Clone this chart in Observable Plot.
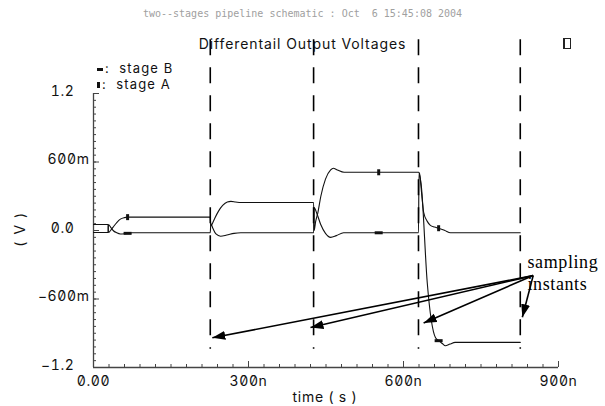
<!DOCTYPE html>
<html><head><meta charset="utf-8">
<script src="https://cdn.jsdelivr.net/npm/d3@7"></script>
<script src="https://cdn.jsdelivr.net/npm/@observablehq/plot@0.6"></script>
<style>
body{margin:0;background:#fff;}
#wrap{position:relative;width:605px;height:406px;overflow:hidden;font-family:Inter,"DejaVu Sans",sans-serif;font-feature-settings:"zero" 1;}
.t{position:absolute;white-space:pre;line-height:1;color:#111;letter-spacing:0.7px;}
.mk{display:inline-block;background:#111;vertical-align:middle;}
</style></head><body><div id="wrap"></div>
<script>
// ---- data (time in ns, voltage in V) ----
const stageA_t = [0, 28, 29, 33, 38, 45, 52, 60, 66, 75, 226, 227, 230, 235, 242, 250, 259, 266, 275, 285, 426, 427, 430, 434, 440, 449, 459, 464, 472, 485, 629, 631, 635, 639, 646, 652, 660, 668, 680, 691, 705, 826];
const stageA_v = [0.053, 0.053, -0.018, 0.0, 0.03, 0.07, 0.1, 0.113, 0.117, 0.117, 0.117, 0.04, 0.06, 0.11, 0.17, 0.22, 0.25, 0.255, 0.25, 0.245, 0.245, 0.0, 0.08, 0.15, 0.3, 0.45, 0.53, 0.545, 0.53, 0.51, 0.51, 0.5, 0.33, 0.16, 0.08, 0.045, 0.03, 0.02, 0.0, -0.02, -0.02, -0.02];
const stageB_t = [0, 28, 29, 33, 38, 45, 52, 60, 66, 75, 226, 227, 231, 237, 246, 258, 272, 285, 426, 427, 433, 440, 449, 459, 470, 484, 629, 630, 634, 646, 662, 668, 675, 681, 690, 700, 826];
const stageB_v = [-0.018, -0.018, 0.053, 0.03, 0.0, -0.02, -0.03, -0.028, -0.025, -0.02, -0.02, 0.06, 0.02, -0.03, -0.05, -0.04, -0.025, -0.02, -0.02, 0.2, 0.14, 0.05, -0.025, -0.06, -0.045, -0.02, -0.02, 0.5, 0.41, -0.46, -0.94, -0.965, -0.99, -1.01, -0.995, -0.98, -0.98];
const markerT = [66, 552, 668];
const markerA = [0.117, 0.51, 0.02];
const markerB = [-0.025, -0.02, -0.965];
const samplingT = [226, 426, 629, 826];
const arrowFrom = [851, -0.395];
const arrowTipT = [230, 420, 639, 830];
const arrowTipV = [-0.94, -0.85, -0.81, -0.76];
const xTicks = [0, 300, 600, 900];
const xTickLabels = ["0.00", "300n", "600n", "900n"];
const yTicks = [-1.2, -0.6, 0, 0.6, 1.2];
const yTickLabels = ["\u22121.2", "\u2212600m", "0.0", "600m", "1.2"];
const annotationLines = ["sampling", "instants"];

// ---- build tables ----
const A = stageA_t.map((t, i) => ({t, v: stageA_v[i]}));
const B = stageB_t.map((t, i) => ({t, v: stageB_v[i]}));
const mA = markerT.map((t, i) => ({t, v: markerA[i]}));
const mB = markerT.map((t, i) => ({t, v: markerB[i]}));
const arrows = arrowTipT.map((t, i) => ({x1: arrowFrom[0], y1: arrowFrom[1], x2: t, y2: arrowTipV[i]}));
const minorX = d3.range(0, 901, 30);
const minorY = d3.range(-40, 41, 2).map(d => d * 0.03);
const yLab = d => yTickLabels[yTicks.indexOf(d)];
const yTicksM = yTicks.filter(d => yLab(d).endsWith("m"));
const yTicksPlain = yTicks.filter(d => !yLab(d).endsWith("m"));

const symA = {draw(ctx) { ctx.rect(-1.5, -3, 3, 6); }};
const symB = {draw(ctx) { ctx.rect(-4, -1.5, 8, 3); }};

function filledArrow(color, context) {
  const ns = "http://www.w3.org/2000/svg";
  const doc = (context && context.document) || document;
  const m = doc.createElementNS(ns, "marker");
  m.setAttribute("viewBox", "-13 -5 13 10");
  m.setAttribute("markerWidth", "13");
  m.setAttribute("markerHeight", "10");
  m.setAttribute("markerUnits", "userSpaceOnUse");
  m.setAttribute("refX", "0");
  m.setAttribute("refY", "0");
  m.setAttribute("orient", "auto");
  const p = doc.createElementNS(ns, "path");
  p.setAttribute("d", "M-13,-4.5L0,0L-13,4.5Z");
  p.setAttribute("fill", color);
  p.setAttribute("stroke", "none");
  m.appendChild(p);
  return m;
}

const chart = Plot.plot({
  width: 605, height: 406,
  marginTop: 93, marginBottom: 39, marginLeft: 93, marginRight: 47,
  x: {domain: [0, 900]},
  y: {domain: [-1.2, 1.2]},
  style: {fontFamily: "Inter, 'DejaVu Sans', sans-serif", fontSize: "14px", background: "white", color: "#111", letterSpacing: "0.6px"},
  marks: [
    Plot.axisX(minorX, {tickSize: -3, tickFormat: () => "", label: null, stroke: "#444"}),
    Plot.axisX(xTicks, {tickSize: -6, tickFormat: () => "", label: null, stroke: "#444"}),
    Plot.axisX(xTicks, {tickSize: 0, tickPadding: 9, tickFormat: d => xTickLabels[xTicks.indexOf(d)], label: null, fill: "#111"}),
    Plot.axisY(minorY, {tickSize: -3, tickFormat: () => "", label: null, stroke: "#444"}),
    Plot.axisY(yTicks, {tickSize: -6, tickFormat: () => "", label: null, stroke: "#444"}),
    Plot.axisY(yTicksM, {tickSize: 0, tickPadding: 4, dy: -2, tickFormat: yLab, label: null, fill: "#111"}),
    Plot.axisY(yTicksPlain, {tickSize: 0, tickPadding: 19, dy: -2, tickFormat: yLab, label: null, fill: "#111"}),
    Plot.ruleX([0], {y1: -1.2, y2: 1.2, stroke: "#444", strokeWidth: 1.3}),
    Plot.ruleY([-1.2], {x1: 0, x2: 900, stroke: "#444", strokeWidth: 1.3}),
    Plot.line(A, {x: "t", y: "v", stroke: "#111", strokeWidth: 1.1, curve: "monotone-x"}),
    Plot.line(B, {x: "t", y: "v", stroke: "#111", strokeWidth: 1.1, curve: "monotone-x"}),
    Plot.dot(mA, {x: "t", y: "v", symbol: symA, fill: "#111", stroke: "none"}),
    Plot.dot(mB, {x: "t", y: "v", symbol: symB, fill: "#111", stroke: "none"}),
    Plot.ruleX(samplingT, {y1: 1.67, y2: -1.04, stroke: "#000", strokeWidth: 1.6, strokeDasharray: "16,12"}),
    Plot.link(arrows, {x1: "x1", y1: "y1", x2: "x2", y2: "y2", stroke: "#000", strokeWidth: 1.6, markerEnd: filledArrow}),
    Plot.text(annotationLines, {x: 840, y: (d, i) => -0.28 - i * 0.19, text: d => d, textAnchor: "start", fontFamily: "'Liberation Serif', 'DejaVu Serif', serif", fontSize: 18, letterSpacing: "0px", fill: "#000"})
  ]
});
const wrap = document.getElementById("wrap");
chart.style.position = "absolute"; chart.style.left = "0"; chart.style.top = "0";
wrap.appendChild(chart);

function addText(txt, css) {
  const d = document.createElement("div");
  d.className = "t"; d.textContent = txt;
  Object.assign(d.style, css);
  wrap.appendChild(d);
  return d;
}
addText("two--stages pipeline schematic : Oct  6 15:45:08 2004", {left: "0", width: "605px", textAlign: "center", top: "9px", fontSize: "10px", color: "#a0a0a0", letterSpacing: "0px", fontFamily: "'DejaVu Sans Mono', monospace"});
addText("Differentail Output Voltages", {left: "0", width: "605px", textAlign: "center", top: "37px", fontSize: "14px", letterSpacing: "0.9px"});
const icon = addText("", {left: "563px", top: "38px", width: "5px", height: "9px", border: "1px solid #222", borderLeft: "2px solid #222"});
function legendRow(w, h, label, top) {
  const d = addText("", {left: "97px", top: top + "px", fontSize: "13px", letterSpacing: "1.1px"});
  const s = document.createElement("span"); s.className = "mk";
  s.style.width = w + "px"; s.style.height = h + "px";
  s.style.marginRight = "2px";
  d.appendChild(s);
  d.appendChild(document.createTextNode(":  " + label));
}
legendRow(6, 3, "stage B", 62);
legendRow(3, 6, "stage A", 78);
addText("time ( s )", {left: "225px", width: "200px", textAlign: "center", top: "390px", fontSize: "14px"});
const yl = addText("( V )", {left: "2px", top: "222px", fontSize: "14px", letterSpacing: "1.5px"});
yl.style.transform = "rotate(-90deg)";
</script></body></html>
